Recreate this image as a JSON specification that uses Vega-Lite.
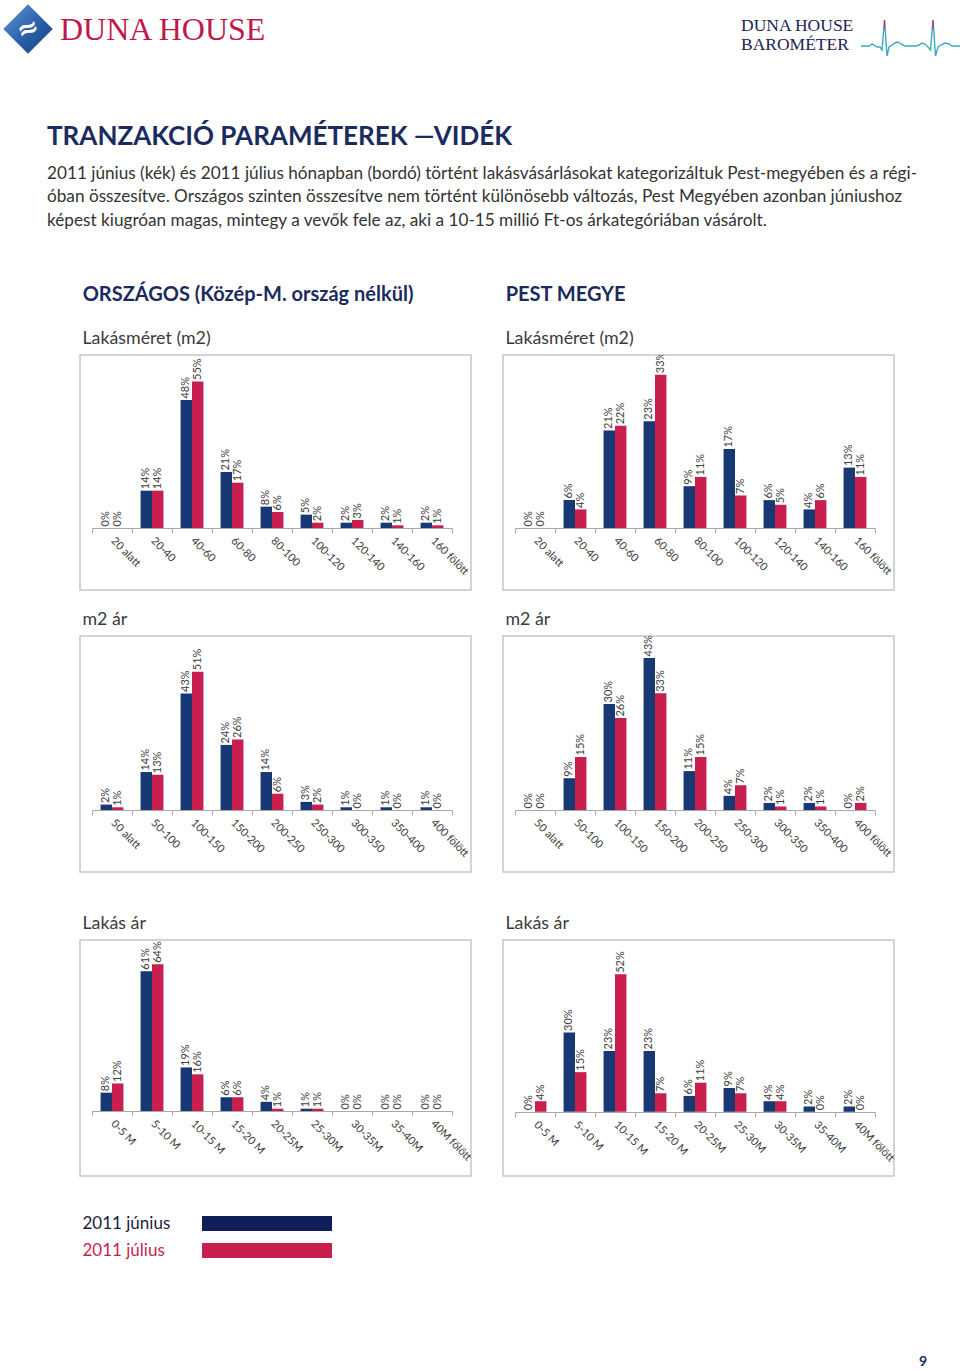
{
  "$schema": "https://vega.github.io/schema/vega-lite/v6.json",
  "padding": 0,
  "background": "white",
  "config": {
    "view": {"stroke": null},
    "concat": {"spacing": 0},
    "font": "Lato",
    "title": {"font": "Lato"},
    "axisX": {
      "title": null,
      "grid": false,
      "domainColor": "#a8a8a8",
      "domainWidth": 1,
      "tickColor": "#a8a8a8",
      "tickSize": 5,
      "tickBand": "extent",
      "labelAngle": 45,
      "labelAlign": "left",
      "labelBaseline": "middle",
      "labelFont": "Lato",
      "labelFontSize": 11,
      "labelColor": "#3a3a3a",
      "labelPadding": 6,
      "labelOverlap": false,
      "labelLimit": 0
    }
  },
  "datasets": {
    "brand": [{"name": "Duna House"}],
    "pulse": [
      {"px": 0, "h": 1}, {"px": 8, "h": 1}, {"px": 11, "h": 3}, {"px": 13, "h": 2}, {"px": 16, "h": 0}, {"px": 19, "h": 0},
      {"px": 21, "h": -3}, {"px": 23.5, "h": 27}, {"px": 26, "h": -9}, {"px": 28, "h": 0}, {"px": 31, "h": 2}, {"px": 34, "h": 4},
      {"px": 37, "h": 5}, {"px": 40, "h": 3}, {"px": 44, "h": 1}, {"px": 55, "h": 1}, {"px": 58, "h": 2}, {"px": 61, "h": 4},
      {"px": 64, "h": 3}, {"px": 67, "h": 0}, {"px": 69.5, "h": -3}, {"px": 72, "h": 27}, {"px": 74.5, "h": -9}, {"px": 77, "h": 0},
      {"px": 80, "h": 2}, {"px": 84, "h": 4}, {"px": 88, "h": 3}, {"px": 91, "h": 1}, {"px": 101, "h": 1}
    ],
    "legend": [{"series": "2011 június"}, {"series": "2011 július"}],
    "bars": [
      {"chart": "om", "cat": "20 alatt", "2011 június": 0, "2011 július": 0},
      {"chart": "om", "cat": "20-40", "2011 június": 0.14, "2011 július": 0.14},
      {"chart": "om", "cat": "40-60", "2011 június": 0.48, "2011 július": 0.55},
      {"chart": "om", "cat": "60-80", "2011 június": 0.21, "2011 július": 0.17},
      {"chart": "om", "cat": "80-100", "2011 június": 0.08, "2011 július": 0.06},
      {"chart": "om", "cat": "100-120", "2011 június": 0.05, "2011 július": 0.02},
      {"chart": "om", "cat": "120-140", "2011 június": 0.02, "2011 július": 0.03},
      {"chart": "om", "cat": "140-160", "2011 június": 0.02, "2011 július": 0.01},
      {"chart": "om", "cat": "160 fölött", "2011 június": 0.02, "2011 július": 0.01},
      {"chart": "pm", "cat": "20 alatt", "2011 június": 0, "2011 július": 0},
      {"chart": "pm", "cat": "20-40", "2011 június": 0.06, "2011 július": 0.04},
      {"chart": "pm", "cat": "40-60", "2011 június": 0.21, "2011 július": 0.22},
      {"chart": "pm", "cat": "60-80", "2011 június": 0.23, "2011 július": 0.33},
      {"chart": "pm", "cat": "80-100", "2011 június": 0.09, "2011 július": 0.11},
      {"chart": "pm", "cat": "100-120", "2011 június": 0.17, "2011 július": 0.07},
      {"chart": "pm", "cat": "120-140", "2011 június": 0.06, "2011 július": 0.05},
      {"chart": "pm", "cat": "140-160", "2011 június": 0.04, "2011 július": 0.06},
      {"chart": "pm", "cat": "160 fölött", "2011 június": 0.13, "2011 július": 0.11},
      {"chart": "o2", "cat": "50 alatt", "2011 június": 0.02, "2011 július": 0.01},
      {"chart": "o2", "cat": "50-100", "2011 június": 0.14, "2011 július": 0.13},
      {"chart": "o2", "cat": "100-150", "2011 június": 0.43, "2011 július": 0.51},
      {"chart": "o2", "cat": "150-200", "2011 június": 0.24, "2011 július": 0.26},
      {"chart": "o2", "cat": "200-250", "2011 június": 0.14, "2011 július": 0.06},
      {"chart": "o2", "cat": "250-300", "2011 június": 0.03, "2011 július": 0.02},
      {"chart": "o2", "cat": "300-350", "2011 június": 0.01, "2011 július": 0},
      {"chart": "o2", "cat": "350-400", "2011 június": 0.01, "2011 július": 0},
      {"chart": "o2", "cat": "400 fölött", "2011 június": 0.01, "2011 július": 0},
      {"chart": "p2", "cat": "50 alatt", "2011 június": 0, "2011 július": 0},
      {"chart": "p2", "cat": "50-100", "2011 június": 0.09, "2011 július": 0.15},
      {"chart": "p2", "cat": "100-150", "2011 június": 0.30, "2011 július": 0.26},
      {"chart": "p2", "cat": "150-200", "2011 június": 0.43, "2011 július": 0.33},
      {"chart": "p2", "cat": "200-250", "2011 június": 0.11, "2011 július": 0.15},
      {"chart": "p2", "cat": "250-300", "2011 június": 0.04, "2011 július": 0.07},
      {"chart": "p2", "cat": "300-350", "2011 június": 0.02, "2011 július": 0.01},
      {"chart": "p2", "cat": "350-400", "2011 június": 0.02, "2011 július": 0.01},
      {"chart": "p2", "cat": "400 fölött", "2011 június": 0, "2011 július": 0.02},
      {"chart": "oa", "cat": "0-5 M", "2011 június": 0.08, "2011 július": 0.12},
      {"chart": "oa", "cat": "5-10 M", "2011 június": 0.61, "2011 július": 0.64},
      {"chart": "oa", "cat": "10-15 M", "2011 június": 0.19, "2011 július": 0.16},
      {"chart": "oa", "cat": "15-20 M", "2011 június": 0.06, "2011 július": 0.06},
      {"chart": "oa", "cat": "20-25M", "2011 június": 0.04, "2011 július": 0.01},
      {"chart": "oa", "cat": "25-30M", "2011 június": 0.01, "2011 július": 0.01},
      {"chart": "oa", "cat": "30-35M", "2011 június": 0, "2011 július": 0},
      {"chart": "oa", "cat": "35-40M", "2011 június": 0, "2011 július": 0},
      {"chart": "oa", "cat": "40M fölött", "2011 június": 0, "2011 július": 0},
      {"chart": "pa", "cat": "0-5 M", "2011 június": 0, "2011 július": 0.04},
      {"chart": "pa", "cat": "5-10 M", "2011 június": 0.30, "2011 július": 0.15},
      {"chart": "pa", "cat": "10-15 M", "2011 június": 0.23, "2011 július": 0.52},
      {"chart": "pa", "cat": "15-20 M", "2011 június": 0.23, "2011 július": 0.07},
      {"chart": "pa", "cat": "20-25M", "2011 június": 0.06, "2011 július": 0.11},
      {"chart": "pa", "cat": "25-30M", "2011 június": 0.09, "2011 július": 0.07},
      {"chart": "pa", "cat": "30-35M", "2011 június": 0.04, "2011 július": 0.04},
      {"chart": "pa", "cat": "35-40M", "2011 június": 0.02, "2011 július": 0},
      {"chart": "pa", "cat": "40M fölött", "2011 június": 0.02, "2011 július": 0}
    ]
  },
  "vconcat": [
    {
      "hconcat": [
        {
          "width": 56, "height": 58,
          "data": {"name": "brand"},
          "layer": [
            {
              "mark": {"type": "point", "shape": "diamond", "filled": true, "size": 2450, "opacity": 1,
                "color": {"gradient": "linear", "x1": 0, "y1": 0, "x2": 1, "y2": 1,
                  "stops": [{"offset": 0, "color": "#6b9ad6"}, {"offset": 0.5, "color": "#2c64ad"}, {"offset": 1, "color": "#123c80"}]}},
              "encoding": {}
            },
            {
              "mark": {"type": "text", "font": "DejaVu Sans", "fontSize": 26, "fontWeight": "bold", "color": "white", "baseline": "middle", "align": "center", "angle": 340},
              "encoding": {"text": {"value": "≈"}}
            }
          ]
        },
        {
          "width": 684, "height": 58,
          "data": {"name": "brand"},
          "mark": {"type": "text"},
          "encoding": {},
          "title": {"text": "DUNA HOUSE", "anchor": "start", "frame": "group", "orient": "top", "baseline": "alphabetic", "offset": -72, "dx": 4,
            "font": "Liberation Serif", "fontSize": 32, "fontWeight": "normal", "color": "#c0184b"}
        },
        {
          "width": 118, "height": 58,
          "data": {"name": "brand"},
          "mark": {"type": "text"},
          "encoding": {},
          "title": {"text": ["DUNA HOUSE", "BAROMÉTER"], "anchor": "start", "frame": "group", "orient": "top", "baseline": "alphabetic", "offset": -67.5, "dx": 1,
            "lineHeight": 19, "font": "Liberation Serif", "fontSize": 17.5, "fontWeight": "normal", "color": "#1d2452"}
        },
        {
          "width": 102, "height": 58,
          "data": {"name": "pulse"},
          "mark": {"type": "line", "strokeWidth": 1.4,
            "color": {"gradient": "linear", "x1": 0, "y1": 0, "x2": 0, "y2": 1,
              "stops": [{"offset": 0, "color": "#c2185b"}, {"offset": 0.3, "color": "#3aa8c4"}, {"offset": 1, "color": "#3aa8c4"}]}},
          "encoding": {
            "x": {"field": "px", "type": "quantitative", "scale": {"domain": [0, 102], "nice": false, "zero": false}, "axis": null},
            "y": {"field": "h", "type": "quantitative", "scale": {"domain": [-11, 47], "nice": false, "zero": false}, "axis": null}
          }
        }
      ],
      "spacing": 0
    },
    {"width": 1, "height": 64, "data": {"name": "brand"}, "mark": {"type": "text"}, "encoding": {}},
    {
      "width": 960, "height": 56,
      "data": {"name": "brand"},
      "mark": {"type": "text"},
      "encoding": {},
      "title": {
        "text": "TRANZAKCIÓ PARAMÉTEREK —VIDÉK",
        "subtitle": [
          "2011 június (kék) és 2011 július hónapban (bordó) történt lakásvásárlásokat kategorizáltuk Pest-megyében és a régi-",
          "óban összesítve. Országos szinten összesítve nem történt különösebb változás, Pest Megyében azonban júniushoz",
          "képest kiugróan magas, mintegy a vevők fele az, aki a 10-15 millió Ft-os árkategóriában vásárolt."
        ],
        "anchor": "start", "frame": "group", "dx": 47, "offset": 0,
        "font": "Lato", "fontSize": 26, "fontWeight": "bold", "color": "#1b2b5f",
        "subtitleFont": "Lato", "subtitleFontSize": 17.2, "subtitleColor": "#333333", "subtitleLineHeight": 23.5, "subtitlePadding": 15
      }
    },
    {
      "hconcat": [
        {"width": 51, "height": 1, "data": {"name": "brand"}, "mark": {"type": "text"}, "encoding": {}},
        {
          "title": {"text": "ORSZÁGOS (Közép-M. ország nélkül)", "anchor": "start", "dx": 7, "offset": 24, "font": "Lato", "fontSize": 20, "fontWeight": "bold", "color": "#1b2b5f"},
          "vconcat": [
            {
              "vconcat": [
                {
                  "width": 391, "height": 235,
                  "view": {"stroke": "#c6c6c6", "strokeWidth": 1.5},
                  "title": {"text": "Lakásméret (m2)", "anchor": "start", "dx": 6, "offset": 7, "font": "Lato", "fontSize": 17.8, "fontWeight": "normal", "color": "#3b3b3b"},
                  "data": {"name": "bars"},
                  "transform": [{"filter": "datum.chart === 'om'"}, {"fold": ["2011 június", "2011 július"], "as": ["series", "v"]}],
                  "encoding": {
                    "x": {"field": "cat", "type": "nominal", "sort": null, "scale": {"range": [12, 372], "paddingInner": 0, "paddingOuter": 0}, "axis": {"offset": -62}},
                    "xOffset": {"field": "series", "type": "nominal", "sort": null, "scale": {"paddingInner": 0, "paddingOuter": 0.75}},
                    "y": {"field": "v", "type": "quantitative", "stack": null, "scale": {"domain": [-0.2326, 0.649], "nice": false, "zero": false}, "axis": null}
                  },
                  "layer": [
                    {"mark": {"type": "bar"}, "encoding": {"color": {"field": "series", "type": "nominal", "sort": null, "scale": {"domain": ["2011 június", "2011 július"], "range": ["#183874", "#c81f4f"]}, "legend": null}}},
                    {"mark": {"type": "text", "angle": 270, "align": "left", "baseline": "middle", "dx": 1.5, "clip": true, "font": "Lato", "fontSize": 11, "color": "#404040"}, "encoding": {"text": {"field": "v", "type": "quantitative", "format": ".0%"}}}
                  ]
                },
                {
                  "width": 391, "height": 236,
                  "view": {"stroke": "#c6c6c6", "strokeWidth": 1.5},
                  "title": {"text": "m2 ár", "anchor": "start", "dx": 6, "offset": 7, "font": "Lato", "fontSize": 17.8, "fontWeight": "normal", "color": "#3b3b3b"},
                  "data": {"name": "bars"},
                  "transform": [{"filter": "datum.chart === 'o2'"}, {"fold": ["2011 június", "2011 július"], "as": ["series", "v"]}],
                  "encoding": {
                    "x": {"field": "cat", "type": "nominal", "sort": null, "scale": {"range": [12, 372], "paddingInner": 0, "paddingOuter": 0}, "axis": {"offset": -62}},
                    "xOffset": {"field": "series", "type": "nominal", "sort": null, "scale": {"paddingInner": 0, "paddingOuter": 0.75}},
                    "y": {"field": "v", "type": "quantitative", "stack": null, "scale": {"domain": [-0.2286, 0.6416], "nice": false, "zero": false}, "axis": null}
                  },
                  "layer": [
                    {"mark": {"type": "bar"}, "encoding": {"color": {"field": "series", "type": "nominal", "sort": null, "scale": {"domain": ["2011 június", "2011 július"], "range": ["#183874", "#c81f4f"]}, "legend": null}}},
                    {"mark": {"type": "text", "angle": 270, "align": "left", "baseline": "middle", "dx": 1.5, "clip": true, "font": "Lato", "fontSize": 11, "color": "#404040"}, "encoding": {"text": {"field": "v", "type": "quantitative", "format": ".0%"}}}
                  ]
                }
              ],
              "spacing": 19
            },
            {
              "width": 391, "height": 236,
              "view": {"stroke": "#c6c6c6", "strokeWidth": 1.5},
              "title": {"text": "Lakás ár", "anchor": "start", "dx": 6, "offset": 7, "font": "Lato", "fontSize": 17.8, "fontWeight": "normal", "color": "#3b3b3b"},
              "data": {"name": "bars"},
              "transform": [{"filter": "datum.chart === 'oa'"}, {"fold": ["2011 június", "2011 július"], "as": ["series", "v"]}],
              "encoding": {
                "x": {"field": "cat", "type": "nominal", "sort": null, "scale": {"range": [12, 372], "paddingInner": 0, "paddingOuter": 0}, "axis": {"offset": -65}},
                "xOffset": {"field": "series", "type": "nominal", "sort": null, "scale": {"paddingInner": 0, "paddingOuter": 0.75}},
                "y": {"field": "v", "type": "quantitative", "stack": null, "scale": {"domain": [-0.2836, 0.746], "nice": false, "zero": false}, "axis": null}
              },
              "layer": [
                {"mark": {"type": "bar"}, "encoding": {"color": {"field": "series", "type": "nominal", "sort": null, "scale": {"domain": ["2011 június", "2011 július"], "range": ["#183874", "#c81f4f"]}, "legend": null}}},
                {"mark": {"type": "text", "angle": 270, "align": "left", "baseline": "middle", "dx": 1.5, "clip": true, "font": "Lato", "fontSize": 11, "color": "#404040"}, "encoding": {"text": {"field": "v", "type": "quantitative", "format": ".0%"}}}
              ]
            }
          ],
          "spacing": 41
        },
        {
          "title": {"text": "PEST MEGYE", "anchor": "start", "dx": 7, "offset": 24, "font": "Lato", "fontSize": 20, "fontWeight": "bold", "color": "#1b2b5f"},
          "vconcat": [
            {
              "vconcat": [
                {
                  "width": 391, "height": 235,
                  "view": {"stroke": "#c6c6c6", "strokeWidth": 1.5},
                  "title": {"text": "Lakásméret (m2)", "anchor": "start", "dx": 6, "offset": 7, "font": "Lato", "fontSize": 17.8, "fontWeight": "normal", "color": "#3b3b3b"},
                  "data": {"name": "bars"},
                  "transform": [{"filter": "datum.chart === 'pm'"}, {"fold": ["2011 június", "2011 július"], "as": ["series", "v"]}],
                  "encoding": {
                    "x": {"field": "cat", "type": "nominal", "sort": null, "scale": {"range": [12, 372], "paddingInner": 0, "paddingOuter": 0}, "axis": {"offset": -62}},
                    "xOffset": {"field": "series", "type": "nominal", "sort": null, "scale": {"paddingInner": 0, "paddingOuter": 0.75}},
                    "y": {"field": "v", "type": "quantitative", "stack": null, "scale": {"domain": [-0.1335, 0.3724], "nice": false, "zero": false}, "axis": null}
                  },
                  "layer": [
                    {"mark": {"type": "bar"}, "encoding": {"color": {"field": "series", "type": "nominal", "sort": null, "scale": {"domain": ["2011 június", "2011 július"], "range": ["#183874", "#c81f4f"]}, "legend": null}}},
                    {"mark": {"type": "text", "angle": 270, "align": "left", "baseline": "middle", "dx": 1.5, "clip": true, "font": "Lato", "fontSize": 11, "color": "#404040"}, "encoding": {"text": {"field": "v", "type": "quantitative", "format": ".0%"}}}
                  ]
                },
                {
                  "width": 391, "height": 236,
                  "view": {"stroke": "#c6c6c6", "strokeWidth": 1.5},
                  "title": {"text": "m2 ár", "anchor": "start", "dx": 6, "offset": 7, "font": "Lato", "fontSize": 17.8, "fontWeight": "normal", "color": "#3b3b3b"},
                  "data": {"name": "bars"},
                  "transform": [{"filter": "datum.chart === 'p2'"}, {"fold": ["2011 június", "2011 július"], "as": ["series", "v"]}],
                  "encoding": {
                    "x": {"field": "cat", "type": "nominal", "sort": null, "scale": {"range": [12, 372], "paddingInner": 0, "paddingOuter": 0}, "axis": {"offset": -62}},
                    "xOffset": {"field": "series", "type": "nominal", "sort": null, "scale": {"paddingInner": 0, "paddingOuter": 0.75}},
                    "y": {"field": "v", "type": "quantitative", "stack": null, "scale": {"domain": [-0.1754, 0.4922], "nice": false, "zero": false}, "axis": null}
                  },
                  "layer": [
                    {"mark": {"type": "bar"}, "encoding": {"color": {"field": "series", "type": "nominal", "sort": null, "scale": {"domain": ["2011 június", "2011 július"], "range": ["#183874", "#c81f4f"]}, "legend": null}}},
                    {"mark": {"type": "text", "angle": 270, "align": "left", "baseline": "middle", "dx": 1.5, "clip": true, "font": "Lato", "fontSize": 11, "color": "#404040"}, "encoding": {"text": {"field": "v", "type": "quantitative", "format": ".0%"}}}
                  ]
                }
              ],
              "spacing": 19
            },
            {
              "width": 391, "height": 236,
              "view": {"stroke": "#c6c6c6", "strokeWidth": 1.5},
              "title": {"text": "Lakás ár", "anchor": "start", "dx": 6, "offset": 7, "font": "Lato", "fontSize": 17.8, "fontWeight": "normal", "color": "#3b3b3b"},
              "data": {"name": "bars"},
              "transform": [{"filter": "datum.chart === 'pa'"}, {"fold": ["2011 június", "2011 július"], "as": ["series", "v"]}],
              "encoding": {
                "x": {"field": "cat", "type": "nominal", "sort": null, "scale": {"range": [12, 372], "paddingInner": 0, "paddingOuter": 0}, "axis": {"offset": -64}},
                "xOffset": {"field": "series", "type": "nominal", "sort": null, "scale": {"paddingInner": 0, "paddingOuter": 0.75}},
                "y": {"field": "v", "type": "quantitative", "stack": null, "scale": {"domain": [-0.243, 0.65], "nice": false, "zero": false}, "axis": null}
              },
              "layer": [
                {"mark": {"type": "bar"}, "encoding": {"color": {"field": "series", "type": "nominal", "sort": null, "scale": {"domain": ["2011 június", "2011 július"], "range": ["#183874", "#c81f4f"]}, "legend": null}}},
                {"mark": {"type": "text", "angle": 270, "align": "left", "baseline": "middle", "dx": 1.5, "clip": true, "font": "Lato", "fontSize": 11, "color": "#404040"}, "encoding": {"text": {"field": "v", "type": "quantitative", "format": ".0%"}}}
              ]
            }
          ],
          "spacing": 41
        }
      ],
      "spacing": 24
    },
    {"width": 1, "height": 27, "data": {"name": "brand"}, "mark": {"type": "text"}, "encoding": {}},
    {
      "hconcat": [
        {"width": 82, "height": 1, "data": {"name": "brand"}, "mark": {"type": "text"}, "encoding": {}},
        {
          "width": 130, "height": 54,
          "data": {"name": "legend"},
          "mark": {"type": "rect"},
          "encoding": {
            "y": {"field": "series", "type": "nominal", "sort": null, "scale": {"paddingInner": 0.44, "paddingOuter": 0.22},
              "axis": {"title": null, "domain": false, "ticks": false, "labelAlign": "left", "labelPadding": 120, "labelFont": "Lato", "labelFontSize": 17,
                "labelColor": {"condition": {"test": "datum.value === '2011 július'", "value": "#c81f4f"}, "value": "#1c1c40"}}},
            "fill": {"field": "series", "type": "nominal", "sort": null, "scale": {"domain": ["2011 június", "2011 július"], "range": ["#0f1d58", "#c81f4f"]}, "legend": null}
          }
        }
      ],
      "spacing": 0
    },
    {"width": 1, "height": 90, "data": {"name": "brand"}, "mark": {"type": "text"}, "encoding": {}},
    {
      "width": 960, "height": 1,
      "data": {"name": "brand"},
      "mark": {"type": "text"},
      "encoding": {},
      "title": {"text": "9", "anchor": "end", "frame": "group", "dx": -33, "offset": 0, "font": "Lato", "fontSize": 14, "fontWeight": "bold", "color": "#1b2b5f"}
    }
  ]
}
